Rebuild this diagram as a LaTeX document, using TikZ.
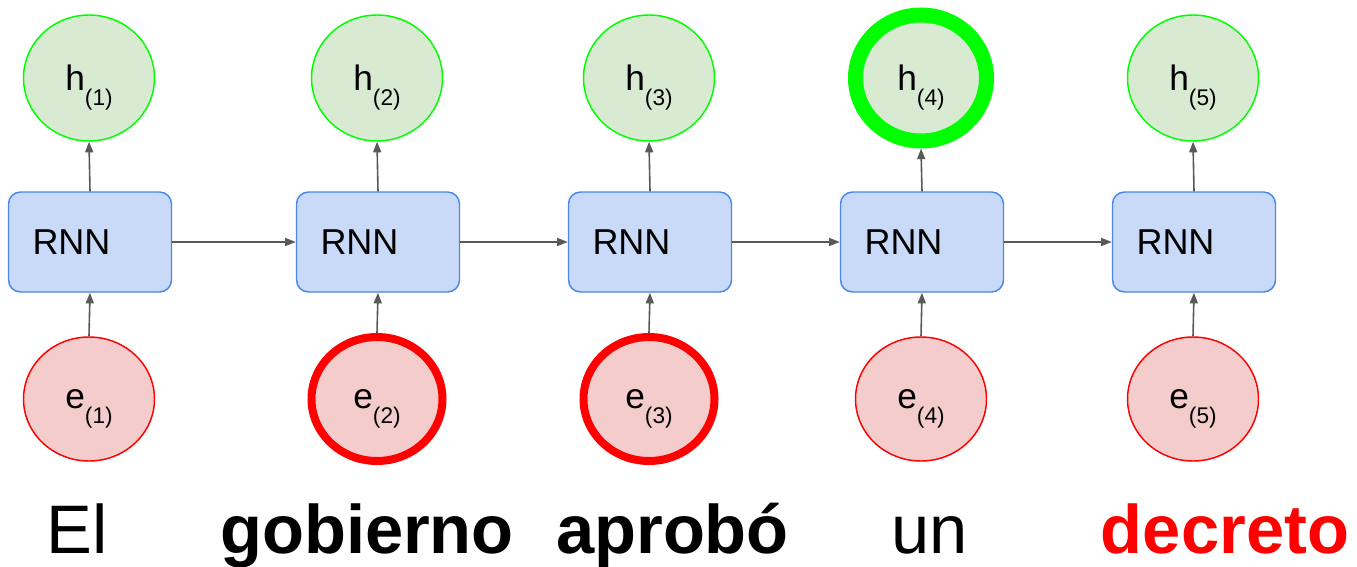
\documentclass[tikz,border=0pt]{standalone}
\usepackage{fontspec}
\setmainfont{Liberation Sans}
\usetikzlibrary{shapes.geometric,arrows.meta}
\definecolor{boxfill}{HTML}{C9DAF8}
\definecolor{boxline}{HTML}{4A86E8}
\definecolor{hfill}{HTML}{D9EAD3}
\definecolor{hline}{HTML}{00FF00}
\definecolor{efill}{HTML}{F4CCCC}
\definecolor{eline}{HTML}{FF0000}
\definecolor{arrowgray}{HTML}{595959}
\newcommand{\lbl}[2]{#1\smash{\raisebox{-11pt}{\fontsize{17pt}{17pt}\selectfont(#2)}}}
\begin{document}
\begin{tikzpicture}[x=0.75pt,y=-0.75pt,
  rnnbox/.style={draw=boxline,fill=boxfill,line width=1.1pt,rounded corners=9pt,
    minimum height=75pt,text width=86.25pt,inner xsep=18pt,align=left,
    font=\fontsize{27pt}{27pt}\selectfont},
  hnode/.style={ellipse,draw=hline,fill=hfill,line width=1.1pt,minimum width=98.25pt,
    minimum height=94.5pt,inner sep=0pt,font=\fontsize{26.5pt}{26.5pt}\selectfont},
  enode/.style={ellipse,draw=eline,fill=efill,line width=1.1pt,minimum width=98.25pt,
    minimum height=93pt,inner sep=0pt,font=\fontsize{26.5pt}{26.5pt}\selectfont},
  conn/.style={draw=arrowgray,line width=1.2pt,-{Triangle[length=8pt,width=6pt]}},
  word/.style={anchor=base,inner sep=0pt,font=\fontsize{51.5pt}{51.5pt}\selectfont},
  bword/.style={word,font=\fontsize{51.5pt}{51.5pt}\selectfont\bfseries}
]
\useasboundingbox (0,0) rectangle (1357,567);
\foreach \i/\c in {1/90,2/378,3/650,4/922,5/1194}{
  \node[rnnbox] (b\i) at (\c,242) {RNN};
}
\node[hnode] (h1) at (89,78) {\lbl{h}{1}};
\node[hnode] (h2) at (377,78) {\lbl{h}{2}};
\node[hnode] (h3) at (649,78) {\lbl{h}{3}};
\node[hnode,line width=11.25pt] (h4) at (921,78) {\lbl{h}{4}};
\node[hnode] (h5) at (1193,78) {\lbl{h}{5}};
\node[enode] (e1) at (89,399) {\lbl{e}{1}};
\node[enode,line width=6pt] (e2) at (377,399) {\lbl{e}{2}};
\node[enode,line width=6pt] (e3) at (649,399) {\lbl{e}{3}};
\node[enode] (e4) at (921,399) {\lbl{e}{4}};
\node[enode] (e5) at (1193,399) {\lbl{e}{5}};
\foreach \i in {1,...,5}{
  \draw[conn] (b\i.north) -- (h\i.south);
  \draw[conn] (e\i.north) -- (b\i.south);
}
\draw[conn] (b1.east) -- (b2.west);
\draw[conn] (b2.east) -- (b3.west);
\draw[conn] (b3.east) -- (b4.west);
\draw[conn] (b4.east) -- (b5.west);
\node[word] (w1) at (77.5,553) {El};
\node[bword] (w2) at (367,553) {gobierno};
\node[bword] (w3) at (672.5,553) {aprobó};
\node[word] (w4) at (929.5,553) {un};
\node[bword,text=eline] (w5) at (1225,553) {decreto};
\end{tikzpicture}
\end{document}
